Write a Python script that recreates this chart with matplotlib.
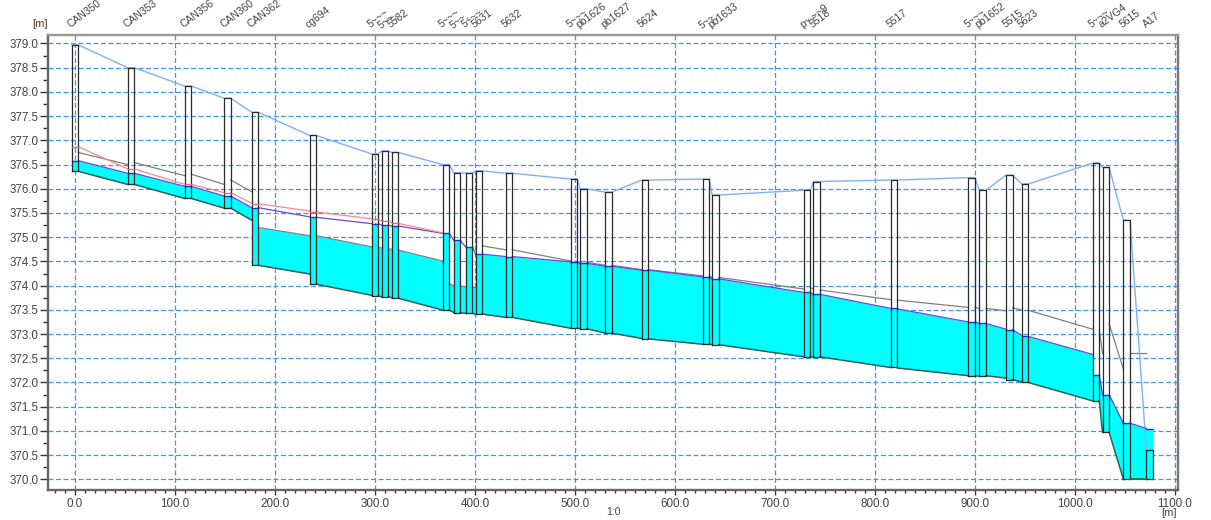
import matplotlib
matplotlib.use('Agg')
import matplotlib.pyplot as plt
from matplotlib.ticker import MultipleLocator

plt.rcParams['font.family'] = ['Liberation Sans', 'DejaVu Sans']

# manholes
names = ['CAN350', 'CAN353', 'CAN356', 'CAN360', 'CAN362', 'cg694', '5~~~', '5~~,', '5582',
         '5~~~', '5~~,', '5~~~', '5631', '5632', '5~~~', 'pb1626', 'pb1627', '5624', '5~~,',
         'pb1633', 'p~.~~9', '5518', '5517', '5~~~', 'pb1652', '5515', '5623', '5~~~',
         'a2VG4', '5615', 'A17']
chainage = [0, 56, 113, 152.5, 180, 238, 300, 310, 320, 371, 382, 394, 404, 434, 499, 508.5,
            533.5, 570, 631, 640.5, 732, 741.7, 819, 896.7, 907.5, 934.3, 950, 1021, 1030.8,
            1051.7, 1074.7]
top = [378.97, 378.5, 378.12, 377.87, 377.58, 377.1, 376.72, 376.78, 376.75, 376.5, 376.33,
       376.32, 376.37, 376.32, 376.2, 376.0, 375.93, 376.18, 376.2, 375.87, 375.97, 376.15,
       376.18, 376.23, 375.97, 376.28, 376.1, 376.53, 376.44, 375.35, 370.6]
bottom = [376.36, 376.09, 375.8, 375.6, 374.42, 374.03, 373.79, 373.77, 373.74, 373.49, 373.44,
          373.425, 373.41, 373.345, 373.12, 373.11, 373.02, 372.9, 372.79, 372.78, 372.53,
          372.53, 372.31, 372.14, 372.14, 372.06, 372.0, 371.62, 370.97, 370.0, 370.0]
water = [376.58, 376.32, 376.05, 375.85, 375.61, 375.42, 375.28, 375.245, 375.23, 375.08, 374.94,
         374.8, 374.65, 374.6, 374.49, 374.46, 374.4, 374.32, 374.18, 374.14, 373.86, 373.82,
         373.53, 373.25, 373.22, 373.09, 372.97, 372.15, 371.75, 371.16, 371.03]

# pipes between neighbouring manholes, upstream / downstream end
wl_up = [376.58, 376.32, 376.05, 375.85, 375.61, 375.41, 375.28, 375.245, 375.23, 375.08, 374.93,
         374.8, 374.65, 374.6, 374.49, 374.46, 374.4, 374.32, 374.18, 374.14, 373.86, 373.82,
         373.52, 373.25, 373.22, 373.09, 372.95, 372.15, 371.75, 371.16]
wl_dn = [376.32, 376.05, 375.85, 375.61, 375.42, 375.28, 375.245, 375.23, 375.08, 374.94, 374.8,
         374.65, 374.6, 374.49, 374.46, 374.4, 374.32, 374.18, 374.14, 373.86, 373.82, 373.53,
         373.25, 373.22, 373.1, 372.97, 372.58, 371.75, 371.16, 371.05]
inv_up = [376.36, 376.09, 375.8, 375.6, 374.42, 374.03, 373.785, 373.77, 373.74, 373.49, 373.44,
          373.427, 373.413, 373.345, 373.12, 373.11, 373.02, 372.9, 372.79, 372.78, 372.53,
          372.53, 372.3, 372.14, 372.14, 372.06, 372.0, 371.62, 370.97, 370.0]
inv_dn = [376.09, 375.8, 375.6, 375.35, 374.24, 373.8, 373.77, 373.75, 373.495, 373.447, 373.427,
          373.413, 373.344, 373.12, 373.11, 373.02, 372.91, 372.79, 372.78, 372.53, 372.53,
          372.31, 372.14, 372.14, 372.09, 372.01, 371.62, 370.97, 370.0, 370.0]
crown_up = [376.75, 376.54, 376.3, 376.18, 375.2, 375.03, 374.79, 374.762, 374.735, 374.04, 373.99,
            373.964, 374.82, 374.74, 374.5, 374.48, 374.42, 374.33, 374.2, 374.17, 373.96, 373.91,
            373.7, 373.55, 373.53, 373.54, 373.49, 373.08, 373.21, 372.6]
crown_dn = [376.5, 376.27, 376.09, 375.94, 375.03, 374.8, 374.776, 374.75, 374.507, 374.0, 373.97,
            373.96, 374.74, 374.51, 374.47, 374.42, 374.33, 374.2, 374.17, 373.93, 373.93, 373.71,
            373.55, 373.53, 373.48, 373.5, 373.1, 372.6, 372.28, 372.6]
red_up = [376.87, 376.41, 376.09, 375.92, 375.69, 375.52, 375.37, 375.34, 375.285]
red_dn = [376.41, 376.09, 375.92, 375.7, 375.54, 375.38, 375.34, 375.3, 375.09]

hw = 3.3
n = len(chainage)

fig = plt.figure(figsize=(12.11, 5.2), dpi=100)
ax = fig.add_axes([48 / 1211, 1 - 490 / 520, 1130 / 1211, 455 / 520])
ax.set_xlim(-27, 1103)
ax.set_ylim(369.78, 379.175)

for i in range(n - 1):
    x0 = chainage[i] + hw
    x1 = chainage[i + 1] - hw
    ax.fill_between([x0, x1], [inv_up[i], inv_dn[i]],
                    [min(wl_up[i], crown_up[i]), min(wl_dn[i], crown_dn[i])],
                    color='#00ffff', lw=0, zorder=2)
    ax.plot([x0, x1], [crown_up[i], crown_dn[i]], color='#808080', lw=0.9, zorder=3)
    ax.plot([x0, x1], [inv_up[i], inv_dn[i]], color='#2f5f55', lw=1.1, zorder=3)
    ax.plot([x0, x1], [wl_up[i], wl_dn[i]], color='#6a45e8', lw=0.9, zorder=4)

for i in range(len(red_up)):
    ax.plot([chainage[i] + hw, chainage[i + 1] - hw], [red_up[i], red_dn[i]],
            color='#f58a8a', lw=0.9, zorder=4)
    ax.plot([chainage[i] - hw, chainage[i] + hw], [red_up[i], red_up[i]],
            color='#f06060', lw=0.9, zorder=6)

# ground line
gx = []
gy = []
for i in range(n):
    gx += [chainage[i] - hw, chainage[i] + hw]
    gy += [top[i], top[i]]
ax.plot(gx, gy, color='#7fb0f8', lw=1.0, zorder=3)

for i in range(n):
    x0 = chainage[i] - hw
    x1 = chainage[i] + hw
    ax.fill_between([x0, x1], [bottom[i], bottom[i]], [water[i], water[i]],
                    color='#00ffff', lw=0, zorder=2.5)
    ax.plot([x0, x1], [water[i], water[i]], color='#2a2af0', lw=1.0, zorder=5)
    ax.plot([x0, x0, x1, x1, x0], [bottom[i], top[i], top[i], bottom[i], bottom[i]],
            color='#2a2a2a', lw=0.9, zorder=5)

ax.plot([chainage[-2] + hw, chainage[-1] - hw], [370.0, 370.0], color='#1f7f3a', lw=1.2, zorder=6)

ax.xaxis.set_major_locator(MultipleLocator(100))
ax.xaxis.set_minor_locator(MultipleLocator(10))
ax.yaxis.set_major_locator(MultipleLocator(0.5))
ax.yaxis.set_minor_locator(MultipleLocator(0.25))
ax.xaxis.set_major_formatter(lambda v, p: f'{v:.1f}')
ax.yaxis.set_major_formatter(lambda v, p: f'{v:.1f}')
ax.tick_params(axis='both', which='both', labelsize=8.4, labelcolor='#444444', color='#333333', width=1.0)
ax.tick_params(axis='x', which='major', length=3.5, pad=2)
ax.tick_params(axis='x', which='minor', length=2.2)
ax.tick_params(axis='y', which='major', length=6, pad=0.5)
ax.tick_params(axis='y', which='minor', length=3.5)

ax.grid(True, which='major', color='#3c96f8', linestyle=(0, (4, 2)), lw=0.9, zorder=1)
ax.set_axisbelow(True)

for side in ax.spines:
    ax.spines[side].set_linewidth(1.7)
    ax.spines[side].set_color('#999999')
ax.spines['left'].set_color('#666666')
ax.spines['bottom'].set_color('#666666')
ax.spines['right'].set_color('#777777')

tr = ax.get_xaxis_transform()
for i in range(n):
    ax.annotate(names[i], (chainage[i], 1), xycoords=tr, xytext=(-3, 5),
                textcoords='offset pixels', rotation=37, rotation_mode='anchor',
                ha='left', va='bottom', fontsize=7.5, color='#444444')

fig.text(40 / 1211, 1 - 24 / 520, '[m]', fontsize=8, color='#553322', ha='center', va='center')
fig.text(613 / 1211, 1 - 512 / 520, '1:0', fontsize=7.5, color='#444444', ha='center', va='center')
fig.text(1169 / 1211, 1 - 513 / 520, '[m]', fontsize=8, color='#444444', ha='center', va='center')

fig.savefig('out.png', dpi=100)
